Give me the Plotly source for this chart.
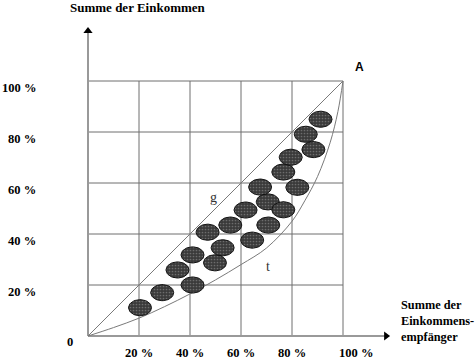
import numpy as np
import plotly.graph_objects as go

# ---- data ----
grid_ticks = [20, 40, 60, 80, 100]
x_tick_labels = ["20 %", "40 %", "60 %", "80 %", "100 %"]
y_tick_labels = ["20 %", "40 %", "60 %", "80 %", "100 %"]

g_x = [0, 100]
g_y = [0, 100]

t_x = [0, 10, 20, 30, 40, 50, 60, 70, 80, 85, 90, 95, 98, 100]
t_y = [0, 3.3, 7, 11.5, 16.5, 22, 28, 34.5, 45, 53, 62.5, 76, 88, 100]

ell_x = [20.4, 29.1, 35.1, 41.0, 41.0, 49.8, 52.8, 46.9, 55.8, 61.8, 64.4,
         70.7, 70.5, 67.5, 76.6, 82.1, 76.6, 79.5, 88.4, 85.4, 91.2]
ell_y = [11.1, 17.0, 25.9, 20.0, 31.8, 28.7, 34.6, 40.7, 43.5, 49.4, 37.6,
         43.5, 52.6, 58.4, 49.5, 58.3, 64.3, 70.1, 73.1, 79.1, 85.0]

# ---- scale: 1 data unit = 2.55 px, origin at (88, 336) ----
W, H = 476, 359
S = 2.55
OX, OY = 88, 336
xr = [-OX / S, (W - OX) / S]
yr = [-(H - OY) / S, OY / S]

fig = go.Figure()

grid_col = "#6e6e6e"
# grid lines
for v in grid_ticks:
    fig.add_trace(go.Scatter(x=[v, v], y=[0, 100], mode="lines",
                             line=dict(color=grid_col, width=1), hoverinfo="skip"))
    fig.add_trace(go.Scatter(x=[0, 100], y=[v, v], mode="lines",
                             line=dict(color=grid_col, width=1), hoverinfo="skip"))

# axes
ax_col = "#999999"
fig.add_trace(go.Scatter(x=[0, 0], y=[0, 119.5], mode="lines",
                         line=dict(color=ax_col, width=2), hoverinfo="skip"))
fig.add_trace(go.Scatter(x=[0, 116.5], y=[0, 0], mode="lines",
                         line=dict(color=ax_col, width=2), hoverinfo="skip"))
fig.add_trace(go.Scatter(x=[0], y=[119.6], mode="markers",
                         marker=dict(symbol="triangle-up", size=8, color="black"),
                         hoverinfo="skip"))
fig.add_trace(go.Scatter(x=[116.9], y=[0], mode="markers",
                         marker=dict(symbol="triangle-right", size=8, color="black"),
                         hoverinfo="skip"))

# curves
curve_col = "#7a7a7a"
fig.add_trace(go.Scatter(x=g_x, y=g_y, mode="lines",
                         line=dict(color=curve_col, width=1), hoverinfo="skip"))
fig.add_trace(go.Scatter(x=t_x, y=t_y, mode="lines",
                         line=dict(color=curve_col, width=1, shape="spline", smoothing=1),
                         hoverinfo="skip"))

# ellipses
rx, ry = 4.5, 3.15
th = np.linspace(0, 2 * np.pi, 48)
for cx, cy in zip(ell_x, ell_y):
    fig.add_trace(go.Scatter(
        x=cx + rx * np.cos(th), y=cy + ry * np.sin(th), mode="lines",
        fill="toself", fillcolor="#4a4a4a",
        fillpattern=dict(shape=".", bgcolor="#3a3a3a", fgcolor="#a0a0a0",
                         size=3, solidity=0.25),
        line=dict(color="#111111", width=1), hoverinfo="skip"))

serif = "Liberation Serif"
ann = []
fs = 12.5
for v, lab in zip(grid_ticks, y_tick_labels):
    ann.append(dict(x=-19.8, y=v, text="<b>%s</b>" % lab, xanchor="right",
                    yanchor="middle", yshift=-7, showarrow=False,
                    font=dict(family=serif, size=fs, color="black")))
for i, (v, lab) in enumerate(zip(grid_ticks, x_tick_labels)):
    ann.append(dict(x=v, y=-6.7, text="<b>%s</b>" % lab, xanchor="center",
                    yanchor="middle", xshift=13 if i == len(grid_ticks) - 1 else 0,
                    showarrow=False, font=dict(family=serif, size=fs, color="black")))
ann.append(dict(x=-6.9, y=-2.5, text="<b>0</b>", showarrow=False,
                xanchor="center", yanchor="middle",
                font=dict(family=serif, size=fs, color="black")))
ann.append(dict(x=19.6, y=129.0, text="<b>Summe der Einkommen</b>", showarrow=False,
                xanchor="center", yanchor="middle",
                font=dict(family=serif, size=13, color="black")))
ann.append(dict(x=121.9, y=6.0, text="<b>Summe der<br>Einkommens-<br>empfänger</b>",
                showarrow=False, xanchor="left", yanchor="middle", align="left",
                font=dict(family=serif, size=12.3, color="black")))
ann.append(dict(x=106.3, y=105.3, text="<b>A</b>", showarrow=False,
                xanchor="center", yanchor="middle",
                font=dict(family="Liberation Sans", size=12, color="black")))
ann.append(dict(x=49.4, y=54.5, text="g", showarrow=False,
                xanchor="center", yanchor="middle",
                font=dict(family=serif, size=14, color="#333333")))
ann.append(dict(x=70.6, y=27.1, text="t", showarrow=False,
                xanchor="center", yanchor="middle",
                font=dict(family=serif, size=14, color="#333333")))

fig.update_layout(
    width=W, height=H,
    margin=dict(l=0, r=0, t=0, b=0, pad=0),
    paper_bgcolor="white", plot_bgcolor="white",
    showlegend=False,
    xaxis=dict(range=xr, visible=False, fixedrange=True),
    yaxis=dict(range=yr, visible=False, fixedrange=True),
    annotations=ann,
)

fig.write_html("out.html", config={"displayModeBar": False},
               post_script="document.body.style.margin='0';"
                           "document.body.style.overflow='hidden';")
